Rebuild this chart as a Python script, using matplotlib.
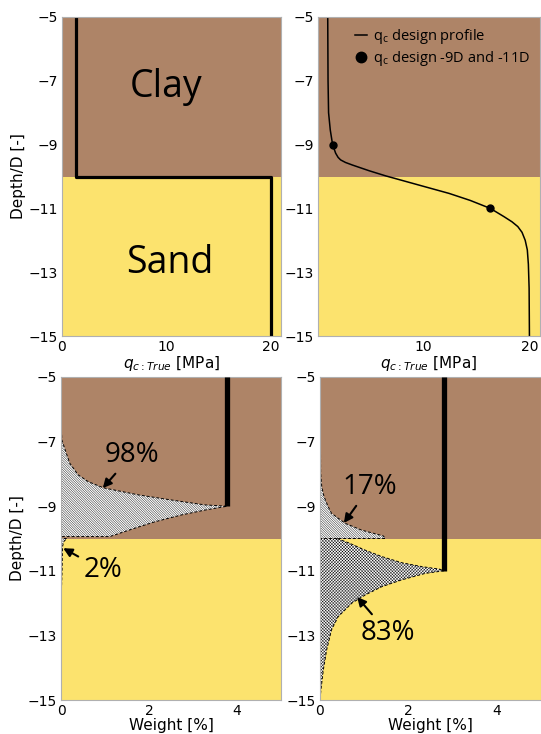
import matplotlib
matplotlib.use("Agg")
import matplotlib.pyplot as plt

# ---- soil layers ----
clay_top, layer_boundary, sand_bottom = -5, -10, -15
clay_color = "#AE8467"
sand_color = "#FCE36E"

# ---- top-left: idealised cone resistance profile ----
true_qc = [1.35, 1.35, 20.0, 20.0]
true_depth = [-5.0, -10.0, -10.0, -15.0]

# ---- top-right: design profile ----
design_depth = [-5.0, -7.0, -8.0, -8.54, -9.0, -9.27, -9.4, -9.48, -9.56, -9.64,
                -9.82, -9.98, -10.27, -10.53, -10.75, -11.0, -11.26, -11.42,
                -11.57, -11.75, -12.0, -12.3, -12.75, -13.5, -15.0]
design_qc = [0.92, 0.95, 1.0, 1.16, 1.38, 1.67, 1.9, 2.14, 2.6, 3.25,
             4.84, 6.4, 9.56, 12.4, 14.4, 16.3, 17.6, 18.35,
             18.9, 19.3, 19.6, 19.8, 19.9, 19.97, 20.0]
point_depth = [-9.0, -11.0]
point_qc = [1.38, 16.3]

# ---- bottom-left: weights for the -9D design point ----
w9_peak, d9_peak = 3.78, -9.0
w9_clay_depth = [-5.0, -6.4, -6.95, -7.36, -7.67, -8.03, -8.24, -8.43, -8.65,
                 -8.81, -8.96, -9.0, -9.12, -9.27, -9.48, -9.68, -9.94]
w9_clay = [0.0, 0.0, 0.02, 0.12, 0.2, 0.39, 0.62, 0.96, 1.76,
           2.52, 3.27, 3.78, 3.27, 2.74, 2.14, 1.68, 1.11]
w9_sand_depth = [-10.0, -10.1, -10.25, -10.6, -11.0, -11.5, -12.0, -15.0]
w9_sand = [0.13, 0.06, 0.035, 0.03, 0.025, 0.012, 0.0, 0.0]

# ---- bottom-right: weights for the -11D design point ----
w11_peak, d11_peak = 2.8, -11.0
w11_clay_depth = [-5.0, -7.98, -8.4, -8.7, -9.0, -9.22, -9.53, -9.74, -9.92, -10.0]
w11_clay = [0.0, 0.015, 0.04, 0.09, 0.18, 0.26, 0.57, 0.94, 1.43, 1.48]
w11_sand_depth = [-10.0, -10.13, -10.36, -10.56, -10.75, -10.87, -10.95, -11.0,
                  -11.08, -11.28, -11.49, -11.75, -12.0, -12.42, -12.83, -13.45,
                  -14.07, -14.7, -15.0]
w11_sand = [0.38, 0.64, 1.02, 1.4, 1.85, 2.3, 2.71, 2.8,
            2.38, 1.85, 1.4, 1.02, 0.72, 0.41, 0.26, 0.15,
            0.075, 0.02, 0.0]

yticks = [-5, -7, -9, -11, -13, -15]
label_font = ["Open Sans", "DejaVu Sans"]

plt.rcParams["hatch.linewidth"] = 0.3
plt.rcParams["font.size"] = 10

fig = plt.figure(figsize=(5.41, 7.34), dpi=100)
W, H = 541, 734


def rect(x0, x1, y0, y1):
    return [x0 / W, (H - y1) / H, (x1 - x0) / W, (y1 - y0) / H]


ax1 = fig.add_axes(rect(62, 281, 17, 336))
ax2 = fig.add_axes(rect(318, 540, 17, 336))
ax3 = fig.add_axes(rect(61, 281, 377, 700))
ax4 = fig.add_axes(rect(320, 541, 377, 700))

for ax in (ax1, ax2, ax3, ax4):
    ax.axhspan(layer_boundary, clay_top, color=clay_color, zorder=0, lw=0)
    ax.axhspan(sand_bottom, layer_boundary, color=sand_color, zorder=0, lw=0)
    ax.set_ylim(sand_bottom, clay_top)
    ax.set_yticks(yticks)
    ax.tick_params(length=0, pad=3, labelsize=10)
    for s in ax.spines.values():
        s.set_color("#b0b0b0")
        s.set_linewidth(0.8)

# top-left
ax1.plot(true_qc, true_depth, color="k", lw=2.3)
ax1.set_xlim(0, 21)
ax1.set_xticks([0, 10, 20])
ax1.set_xlabel(r"$q_{c:True}$ [MPa]", fontsize=11, labelpad=0)
ax1.set_ylabel("Depth/D [-]", fontsize=11, labelpad=2)
ax1.text(10, -7.2, "Clay", fontsize=27, family=label_font, ha="center", va="center")
ax1.text(10.3, -12.7, "Sand", fontsize=27, family=label_font, ha="center", va="center")

# top-right
ax2.plot(design_qc, design_depth, color="k", lw=1.1,
         label=r"q$_\mathregular{c}$ design profile")
ax2.plot(point_qc, point_depth, "o", color="k", ms=5, ls="none",
         label=r"q$_\mathregular{c}$ design -9D and -11D")
ax2.set_xlim(0, 21)
ax2.set_xticks([10, 20])
ax2.set_xlabel(r"$q_{c:True}$ [MPa]", fontsize=11, labelpad=0)
ax2.legend(loc="upper left", bbox_to_anchor=(0.135, 0.99), frameon=False,
           prop={"family": label_font, "size": 10.5}, handlelength=0.8,
           handletextpad=0.45, borderpad=0, labelspacing=0.2, markerscale=1.5)

arrow = dict(arrowstyle="-|>", color="k", lw=1.5, mutation_scale=13,
             shrinkA=2, shrinkB=0)
fill_kw = dict(facecolor="white", edgecolor="k", linestyle=(0, (3, 2)),
               linewidth=0.7, zorder=2)

# bottom-left
ax3.fill_betweenx(w9_clay_depth, 0, w9_clay, hatch="\\" * 14, **fill_kw)
ax3.fill_betweenx(w9_sand_depth, 0, w9_sand, hatch="\\" * 14, **fill_kw)
ax3.plot([w9_peak, w9_peak], [clay_top, d9_peak], color="k", lw=3.8,
         solid_capstyle="butt", zorder=3)
ax3.set_xlim(0, 5)
ax3.set_xticks([0, 2, 4])
ax3.set_xlabel("Weight [%]", fontsize=11, labelpad=0)
ax3.set_ylabel("Depth/D [-]", fontsize=11, labelpad=2)
ax3.annotate("98%", xy=(0.95, -8.44), xytext=(1.61, -7.41), fontsize=20,
             family=label_font, ha="center", va="center", arrowprops=arrow)
ax3.annotate("2%", xy=(0.05, -10.3), xytext=(0.95, -10.98), fontsize=20,
             family=label_font, ha="center", va="center", arrowprops=arrow)

# bottom-right
ax4.fill_betweenx(w11_clay_depth, 0, w11_clay, hatch="\\" * 14, **fill_kw)
ax4.fill_betweenx(w11_sand_depth, 0, w11_sand, hatch="x" * 11, **fill_kw)
ax4.plot([w11_peak, w11_peak], [clay_top, d11_peak], color="k", lw=3.8,
         solid_capstyle="butt", zorder=3)
ax4.set_xlim(0, 5)
ax4.set_xticks([0, 2, 4])
ax4.set_xlabel("Weight [%]", fontsize=11, labelpad=0)
ax4.annotate("17%", xy=(0.54, -9.52), xytext=(1.13, -8.4), fontsize=20,
             family=label_font, ha="center", va="center", arrowprops=arrow)
ax4.annotate("83%", xy=(0.84, -11.81), xytext=(1.54, -12.93), fontsize=20,
             family=label_font, ha="center", va="center", arrowprops=arrow)

fig.savefig("out.png", dpi=100)
